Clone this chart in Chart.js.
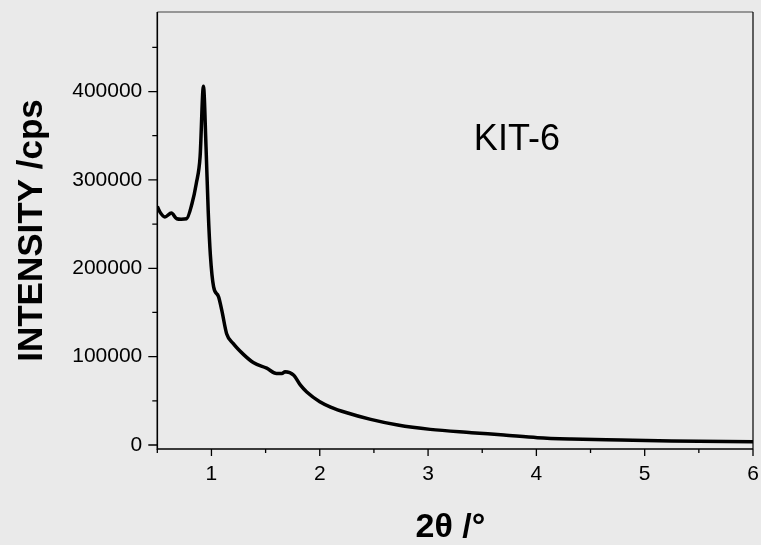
<!DOCTYPE html>
<html>
<head>
<meta charset="utf-8">
<script src="https://cdn.jsdelivr.net/npm/chart.js@4/dist/chart.umd.min.js"></script>
<style>
  html, body { margin: 0; padding: 0; background: #eaeaea; }
  canvas { display: block; }
</style>
</head>
<body>
<canvas id="chart" width="761" height="545"></canvas>
<script>
// 2theta (deg) and intensity (cps)
const twoTheta = [0.5, 0.525, 0.57, 0.63, 0.68, 0.72, 0.77, 0.82, 0.86, 0.895, 0.926, 0.95, 0.97, 0.99,
  1.02, 1.065, 1.096, 1.14, 1.2, 1.3, 1.39, 1.51, 1.6, 1.65, 1.68, 1.76, 1.82, 1.88,
  2.0, 2.1, 2.25, 2.47, 2.72, 3.02, 3.4, 3.7, 4.01, 4.32, 4.78, 5.25, 6.0];
const intensity = [270000, 263500, 258000, 262500, 256000, 255500, 256000, 273000, 296000, 326000, 406000, 337000, 265000, 215000,
  179000, 168000, 152000, 126000, 115000, 102000, 93000, 87000, 81000, 81000, 83000, 79000, 68000, 60000,
  49000, 43000, 36500, 29000, 22600, 17700, 14000, 11300, 8300, 6800, 5600, 4500, 3700];

const xTicks = [0.5, 1, 1.5, 2, 2.5, 3, 3.5, 4, 4.5, 5, 5.5, 6];
const yTicks = [0, 50000, 100000, 150000, 200000, 250000, 300000, 350000, 400000, 450000];
const sampleLabel = 'KIT-6';

const FONT = '"Liberation Sans", Arial, Helvetica, sans-serif';

// keep the plot box fixed: no extra room for edge labels
function noEdgePadding(s) {
  s.paddingLeft = s.paddingRight = s.paddingTop = s.paddingBottom = 0;
}

// frame, tick marks and sample label
const decorations = {
  id: 'decorations',
  afterDraw(chart) {
    const { ctx, chartArea: a, scales: { x, y } } = chart;
    ctx.save();
    ctx.lineCap = 'butt';

    // ticks
    ctx.strokeStyle = '#000';
    ctx.lineWidth = 1.3;
    ctx.beginPath();
    x.ticks.forEach(t => {
      const px = x.getPixelForValue(t.value);
      const len = Number.isInteger(t.value) ? 7 : 4;
      ctx.moveTo(px, a.bottom);
      ctx.lineTo(px, a.bottom + len);
    });
    y.ticks.forEach(t => {
      const py = y.getPixelForValue(t.value);
      const len = t.value % 100000 === 0 ? 9 : 5;
      ctx.moveTo(a.left, py);
      ctx.lineTo(a.left - len, py);
    });
    ctx.stroke();

    // frame
    ctx.strokeStyle = '#7a7a7a';
    ctx.lineWidth = 1.5;
    ctx.beginPath();
    ctx.moveTo(a.left, a.top);
    ctx.lineTo(a.right, a.top);
    ctx.stroke();
    ctx.strokeStyle = '#000';
    ctx.lineWidth = 1.2;
    ctx.beginPath();
    ctx.moveTo(a.right, a.top);
    ctx.lineTo(a.right, a.bottom);
    ctx.stroke();
    ctx.lineWidth = 1.6;
    ctx.beginPath();
    ctx.moveTo(a.left, a.top);
    ctx.lineTo(a.left, a.bottom);
    ctx.lineTo(a.right, a.bottom);
    ctx.stroke();

    // sample name
    ctx.fillStyle = '#000';
    ctx.font = '36px ' + FONT;
    ctx.textAlign = 'center';
    ctx.textBaseline = 'middle';
    ctx.fillText(sampleLabel, x.getPixelForValue(3.82), y.getPixelForValue(345000));
    ctx.restore();
  }
};

new Chart(document.getElementById('chart'), {
  type: 'line',
  data: {
    datasets: [{
      data: twoTheta.map((v, i) => ({ x: v, y: intensity[i] })),
      borderColor: '#000',
      borderWidth: 3.5,
      pointRadius: 0,
      fill: false,
      cubicInterpolationMode: 'monotone'
    }]
  },
  options: {
    responsive: false,
    animation: false,
    devicePixelRatio: 1,
    layout: { padding: { left: 0, top: 12, right: 8, bottom: 0 } },
    plugins: { legend: { display: false }, tooltip: { enabled: false } },
    scales: {
      x: {
        type: 'linear',
        min: 0.5,
        max: 6,
        afterBuildTicks: s => { s.ticks = xTicks.map(v => ({ value: v })); },
        afterFit: s => { s.height = 96; noEdgePadding(s); },
        grid: { display: false, drawTicks: false },
        border: { display: false },
        ticks: {
          autoSkip: false,
          maxRotation: 0,
          padding: 13,
          color: '#000',
          font: { family: FONT, size: 21 },
          callback: v => Number.isInteger(v) ? String(v) : ''
        },
        title: {
          display: true,
          text: '2θ /° ',
          color: '#000',
          font: { family: FONT, size: 34, weight: 'bold', lineHeight: 1 },
          padding: { top: 0, bottom: 0 }
        }
      },
      y: {
        type: 'linear',
        min: -4500,
        max: 490000,
        afterBuildTicks: s => { s.ticks = yTicks.map(v => ({ value: v })); },
        afterFit: s => { s.width = 157.3; noEdgePadding(s); },
        grid: { display: false, drawTicks: false },
        border: { display: false },
        ticks: {
          autoSkip: false,
          padding: 15,
          color: '#000',
          font: { family: FONT, size: 21 },
          callback: v => v % 100000 === 0 ? String(v) : ''
        },
        title: {
          display: true,
          text: 'INTENSITY /cps',
          color: '#000',
          font: { family: FONT, size: 35, weight: 'bold', lineHeight: 1 },
          padding: { top: 15, bottom: 0 }
        }
      }
    }
  },
  plugins: [decorations]
});
</script>
</body>
</html>
